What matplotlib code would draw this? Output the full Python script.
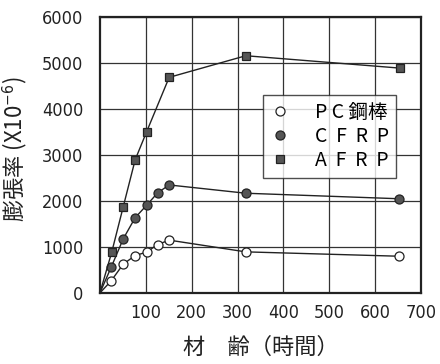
import matplotlib.pyplot as plt

plt.rcParams['font.family'] = ['DejaVu Sans', 'Noto Sans CJK JP']
plt.rcParams['font.stretch'] = 'condensed'

# 材齢 (時間) と膨張率 (x10^-6)
edad = [0, 25, 51, 77, 102, 126, 151, 318, 652]
pc_acero = [0, 270, 630, 815, 890, 1055, 1150, 895, 800]
cfrp = [0, 570, 1180, 1640, 1910, 2180, 2350, 2170, 2050]

edad_afrp = [0, 26, 51, 77, 102, 151, 318, 655]
afrp = [0, 895, 1880, 2900, 3510, 4690, 5160, 4890]

fig = plt.figure(figsize=(4.4, 3.64), dpi=100)
ax = fig.add_axes([0.227, 0.195, 0.730, 0.758])

ax.plot(edad, pc_acero, color='#222222', lw=1.0, marker='o', ms=6.5,
        mfc='white', mec='#222222', mew=0.9, markevery=list(range(1, len(edad))),
        label='P C 鋼棒')
ax.plot(edad, cfrp, color='#222222', lw=1.0, marker='o', ms=6.5,
        mfc='#555555', mec='#222222', mew=0.9, markevery=list(range(1, len(edad))),
        label='C  F  R  P')
ax.plot(edad_afrp, afrp, color='#222222', lw=1.0, marker='s', ms=6,
        mfc='#555555', mec='#222222', mew=0.9, markevery=list(range(1, len(edad_afrp))),
        label='A  F  R  P')

ax.set_xlim(0, 700)
ax.set_ylim(0, 6000)
ax.set_xticks(range(100, 701, 100))
ax.set_yticks(range(0, 6001, 1000))
ax.tick_params(length=0, labelsize=13, colors='#222222')
ax.tick_params(axis='x', pad=8)
ax.tick_params(axis='y', pad=12)
ax.grid(True, color='#333333', lw=0.9)
for s in ax.spines.values():
    s.set_linewidth(1.6)
    s.set_color('#222222')

ax.set_xlabel('材　齢（時間）', fontsize=16, family=['Noto Sans CJK JP'],
              labelpad=10, color='#222222')
ax.set_ylabel('膨張率 (X10$^{-6}$)', fontsize=16, family=['Noto Sans CJK JP', 'DejaVu Sans'],
              color='#222222')
ax.yaxis.set_label_coords(-0.22, 0.52)

leg = ax.legend(loc='upper left', bbox_to_anchor=(0.508, 0.717), borderaxespad=0,
                prop={'family': ['Noto Sans CJK JP'], 'size': 14},
                frameon=True, fancybox=False, edgecolor='#222222',
                handlelength=1.0, handletextpad=1.3, borderpad=0.35,
                labelspacing=0.15, markerscale=1.0)
leg.get_frame().set_linewidth(1.0)
for h in leg.legend_handles:
    h.set_linestyle('none')

fig.savefig('out.png', dpi=100)
